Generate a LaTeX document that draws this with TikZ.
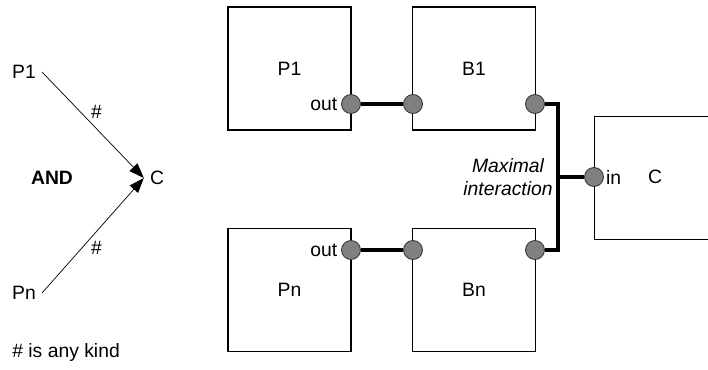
\documentclass[tikz,border=0pt]{standalone}
\usepackage{fontspec}
\setmainfont{Liberation Sans}
\usetikzlibrary{arrows.meta}
\tikzstyle{arrow} = [thin,-{Triangle[length=0.3cm,width=0.22cm]}]
\tikzstyle{bus} = [line width=2pt]

\begin{document}
\begin{tikzpicture}
        [
            font=\fontsize{11}{13}\selectfont,
            box/.style={rectangle,draw=black,line width=0.6pt,minimum size=2.46cm},
            port/.style={circle,draw=black!80,fill=black!50,line width=0.5pt,minimum size=0.38cm,inner sep=0pt},
        ]
    \useasboundingbox (0,0) rectangle (14.16,7.38);

    % left: the rule in short
    \node (lp1) at (0.48,5.94){P1};
    \node (lpn) at (0.48,1.52){Pn};
    \node (lc) at (3.14,3.82){C};
    \node[font=\fontsize{11}{13}\selectfont\bfseries] (and) at (1.04,3.82){AND};
    \node[anchor=west,inner sep=0pt] (note) at (0.24,0.32){\# is any kind};
    \draw[arrow] (lp1.east) -- node[pos=0.5,above,xshift=2pt]{\#} (lc.west);
    \draw[arrow] (lpn.east) -- node[pos=0.5,below,xshift=2pt]{\#} (lc.west);

    % right: components and ports
    \node[box] (p1) at (5.79,6.01){P1};
    \node[box] (b1) at (9.48,6.01){B1};
    \node[box] (pn) at (5.79,1.58){Pn};
    \node[box] (bn) at (9.48,1.58){Bn};
    \node[box,anchor=west] (cbox) at (11.88,3.82){};
    \node (clab) at (13.1,3.84){C};

    \node[port] (p1out) at (7.02,5.30){};
    \node[port] (b1in) at (8.26,5.30){};
    \node[port] (b1out) at (10.70,5.30){};
    \node[port] (pnout) at (7.02,2.38){};
    \node[port] (bnin) at (8.26,2.38){};
    \node[port] (bnout) at (10.70,2.38){};
    \node[port] (cin) at (11.88,3.84){};

    \node[anchor=east,inner sep=2pt] at (p1out.west){out};
    \node[anchor=east,inner sep=2pt] at (pnout.west){out};
    \node[anchor=west,inner sep=1pt] at (cin.east){in};

    % connectors
    \draw[bus] (p1out) -- (b1in);
    \draw[bus] (pnout) -- (bnin);
    \coordinate (join) at (11.16,3.84);
    \draw[bus] (b1out.east) -| (join) |- (bnout.east);
    \draw[bus] (join) -- (cin.west);
    \node[font=\fontsize{11}{13}\selectfont\itshape,align=center] (maxi) at (10.16,3.84){Maximal\\interaction};
    \end{tikzpicture}
\end{document}
